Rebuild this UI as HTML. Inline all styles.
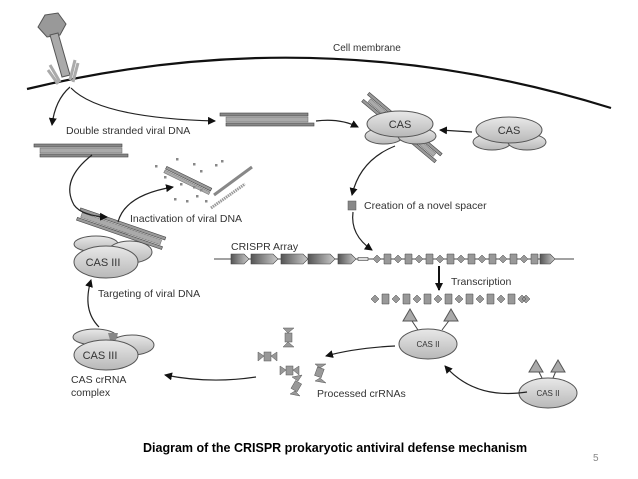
<!DOCTYPE html>
<html><head><meta charset="utf-8"><style>
body{margin:0;background:#fff;width:638px;height:479px;overflow:hidden}
svg{display:block}
text{font-family:"Liberation Sans",sans-serif;fill:#333}
</style></head><body>
<svg width="638" height="479" viewBox="0 0 638 479" xmlns="http://www.w3.org/2000/svg">
<defs>
<marker id="a" markerWidth="8" markerHeight="8" refX="7" refY="4" orient="auto" markerUnits="userSpaceOnUse"><path d="M0,0 L8,4 L0,8 z" fill="#111"/></marker>
<linearGradient id="g" x1="0" y1="0" x2="0" y2="1"><stop offset="0" stop-color="#e8e8e8"/><stop offset="1" stop-color="#b8b8b8"/></linearGradient>
<linearGradient id="h" x1="0" y1="0" x2="1" y2="0"><stop offset="0" stop-color="#555"/><stop offset="1" stop-color="#ccc"/></linearGradient>
<g id="dna"><rect x="0" y="0" width="88" height="3" fill="#888" stroke="#444" stroke-width=".6"/><rect x="6" y="4" width="82" height="5" fill="#aaa" stroke="#666" stroke-width=".5"/><rect x="6" y="10" width="88" height="3" fill="#888" stroke="#444" stroke-width=".6"/></g>
</defs>
<path d="M27,89 Q321,18 611,108" fill="none" stroke="#111" stroke-width="2.2"/>
<text x="333" y="51" font-size="10">Cell membrane</text>
<polygon points="45,15 58,13 66,24 60,35 47,37 38,27" fill="#999" stroke="#555"/>
<polygon points="50,35 58,33 70,75 62,77" fill="#aaa" stroke="#555"/>
<path d="M50,65 L60,82 M48,70 L58,84 M75,60 L70,80 M78,63 L73,82" stroke="#aaa" stroke-width="3"/>
<path d="M70,87 Q55,100 52,125" fill="none" stroke="#222" stroke-width="1.2" marker-end="url(#a)"/>
<path d="M71,88 Q100,118 215,121" fill="none" stroke="#222" stroke-width="1.2" marker-end="url(#a)"/>
<text x="66" y="134" font-size="10.5">Double stranded viral DNA</text>
<use href="#dna" x="34" y="144"/>
<use href="#dna" x="220" y="113"/>
<path d="M316,121 Q340,118 358,127" fill="none" stroke="#222" stroke-width="1.2" marker-end="url(#a)"/>
<g transform="rotate(40 400 126)"><rect x="355" y="120" width="95" height="3" fill="#999" stroke="#444" stroke-width=".6"/><rect x="360" y="124" width="85" height="4" fill="#aaa" stroke="#666" stroke-width=".5"/><rect x="355" y="129" width="95" height="3" fill="#999" stroke="#444" stroke-width=".6"/></g>
<ellipse cx="384" cy="136" rx="19" ry="8" fill="url(#g)" stroke="#555"/>
<ellipse cx="417" cy="136" rx="19" ry="8" fill="url(#g)" stroke="#555"/>
<ellipse cx="400" cy="124" rx="33" ry="13" fill="url(#g)" stroke="#555"/>
<text x="400" y="128" font-size="11" text-anchor="middle">CAS</text>
<ellipse cx="492" cy="142" rx="19" ry="8" fill="url(#g)" stroke="#555"/>
<ellipse cx="527" cy="142" rx="19" ry="8" fill="url(#g)" stroke="#555"/>
<ellipse cx="509" cy="130" rx="33" ry="13" fill="url(#g)" stroke="#555"/>
<text x="509" y="134" font-size="11" text-anchor="middle">CAS</text>
<path d="M472,132 L440,130" stroke="#222" stroke-width="1.2" marker-end="url(#a)"/>
<path d="M395,146 Q360,160 352,195" fill="none" stroke="#222" stroke-width="1.2" marker-end="url(#a)"/>
<rect x="348" y="201" width="8" height="9" fill="#888" stroke="#555" stroke-width=".5"/>
<text x="364" y="209" font-size="10.5">Creation of a novel spacer</text>
<path d="M353,212 Q350,235 372,250" fill="none" stroke="#222" stroke-width="1.2" marker-end="url(#a)"/>
<text x="231" y="250" font-size="10.5">CRISPR Array</text>
<line x1="214" y1="259" x2="574" y2="259" stroke="#444"/>
<g stroke="#444" stroke-width=".6">
<path d="M231,254 h13 l5,5 l-5,5 h-13z" fill="url(#h)"/>
<path d="M251,254 h22 l5,5 l-5,5 h-22z" fill="url(#h)"/>
<path d="M281,254 h22 l5,5 l-5,5 h-22z" fill="url(#h)"/>
<path d="M308,254 h22 l5,5 l-5,5 h-22z" fill="url(#h)"/>
<path d="M338,254 h13 l5,5 l-5,5 h-13z" fill="url(#h)"/>
<rect x="358" y="257.5" width="10" height="3" fill="#ddd"/>
<path d="M540,254 h10 l5,5 l-5,5 h-10z" fill="url(#h)"/>
</g>
<g fill="#999" stroke="#444" stroke-width=".5">
<path d="M373,259 l4,-4 l4,4 l-4,4z M384,254h7v10h-7z M394,259 l4,-4 l4,4 l-4,4z M405,254h7v10h-7z M415,259 l4,-4 l4,4 l-4,4z M426,254h7v10h-7z M436,259 l4,-4 l4,4 l-4,4z M447,254h7v10h-7z M457,259 l4,-4 l4,4 l-4,4z M468,254h7v10h-7z M478,259 l4,-4 l4,4 l-4,4z M489,254h7v10h-7z M499,259 l4,-4 l4,4 l-4,4z M510,254h7v10h-7z M520,259 l4,-4 l4,4 l-4,4z M531,254h7v10h-7z"/>
<path d="M371,299 l4,-4 l4,4 l-4,4z M382,294h7v10h-7z M392,299 l4,-4 l4,4 l-4,4z M403,294h7v10h-7z M413,299 l4,-4 l4,4 l-4,4z M424,294h7v10h-7z M434,299 l4,-4 l4,4 l-4,4z M445,294h7v10h-7z M455,299 l4,-4 l4,4 l-4,4z M466,294h7v10h-7z M476,299 l4,-4 l4,4 l-4,4z M487,294h7v10h-7z M497,299 l4,-4 l4,4 l-4,4z M508,294h7v10h-7z M518,299 l4,-4 l4,4 l-4,4z M522,299 l4,-4 l4,4 l-4,4z"/>
</g>
<line x1="439" y1="266" x2="439" y2="290" stroke="#111" stroke-width="2" marker-end="url(#a)"/>
<text x="451" y="285" font-size="10.5">Transcription</text>
<path d="M418,330 L410,318 M442,330 L451,318 M542,378 L536,366 M553,378 L558,366" stroke="#444"/>
<g fill="#aaa" stroke="#555"><polygon points="410,309 403,321 417,321"/><polygon points="451,309 444,321 458,321"/><polygon points="536,360 529,372 543,372"/><polygon points="558,360 551,372 565,372"/></g>
<ellipse cx="428" cy="344" rx="29" ry="15" fill="url(#g)" stroke="#555"/>
<text x="428" y="347" font-size="8" text-anchor="middle">CAS II</text>
<ellipse cx="548" cy="393" rx="29" ry="15" fill="url(#g)" stroke="#555"/>
<text x="548" y="396" font-size="8" text-anchor="middle">CAS II</text>
<path d="M527,392 Q475,400 445,366" fill="none" stroke="#222" stroke-width="1.2" marker-end="url(#a)"/>
<path d="M395,346 Q355,348 326,356" fill="none" stroke="#222" stroke-width="1.2" marker-end="url(#a)"/>
<g fill="#999" stroke="#555" stroke-width=".5">
<rect x="285" y="333" width="7" height="9"/><polygon points="283,328 294,328 288,333"/><polygon points="283,347 294,347 288,342"/>
<rect x="264" y="352" width="7" height="9"/><polygon points="258,352 258,361 264,356"/><polygon points="277,352 277,361 271,356"/>
<rect x="286" y="366" width="7" height="9"/><polygon points="280,366 280,375 286,370"/><polygon points="299,366 299,375 293,370"/>
<rect x="316" y="368" width="7" height="9" transform="rotate(20 320 372)"/><polygon points="315,364 326,364 320,368"/><polygon points="315,381 326,383 320,378"/>
<rect x="293" y="382" width="7" height="9" transform="rotate(30 297 386)"/><polygon points="292,377 302,375 298,381"/><polygon points="290,394 300,396 295,391"/>
</g>
<text x="317" y="397" font-size="10.5">Processed crRNAs</text>
<path d="M256,377 Q210,384 165,375" fill="none" stroke="#222" stroke-width="1.2" marker-end="url(#a)"/>
<ellipse cx="95" cy="337" rx="22" ry="8" fill="url(#g)" stroke="#555"/>
<ellipse cx="132" cy="345" rx="22" ry="10" fill="url(#g)" stroke="#555"/>
<polygon points="108,333 118,333 116,340 110,340" fill="#888"/>
<ellipse cx="106" cy="355" rx="32" ry="15" fill="url(#g)" stroke="#555"/>
<text x="100" y="359" font-size="11" text-anchor="middle">CAS III</text>
<text x="71" y="383" font-size="10.5">CAS crRNA</text>
<text x="71" y="396" font-size="10.5">complex</text>
<path d="M99,327 Q82,310 91,280" fill="none" stroke="#222" stroke-width="1.2" marker-end="url(#a)"/>
<text x="98" y="297" font-size="10.5">Targeting of viral DNA</text>
<ellipse cx="96" cy="244" rx="22" ry="8" fill="url(#g)" stroke="#555"/>
<ellipse cx="130" cy="252" rx="22" ry="11" fill="url(#g)" stroke="#555"/>
<ellipse cx="106" cy="262" rx="32" ry="16" fill="url(#g)" stroke="#555"/>
<text x="103" y="266" font-size="11" text-anchor="middle">CAS III</text>
<g transform="rotate(19 120 232)"><rect x="75" y="222" width="90" height="3" fill="#999" stroke="#444" stroke-width=".6"/><rect x="78" y="226" width="84" height="5" fill="#aaa" stroke="#666" stroke-width=".5"/><rect x="75" y="232" width="90" height="3" fill="#999" stroke="#444" stroke-width=".6"/></g>
<path d="M92,155 Q60,180 74,205 Q82,216 107,217" fill="none" stroke="#222" stroke-width="1.2" marker-end="url(#a)"/>
<path d="M118,222 Q125,195 173,187" fill="none" stroke="#222" stroke-width="1.2" marker-end="url(#a)"/>
<text x="130" y="222" font-size="10.5">Inactivation of viral DNA</text>
<g transform="rotate(26 188 180)"><rect x="163" y="177" width="50" height="3" fill="#999" stroke="#444" stroke-width=".6"/><rect x="163" y="181" width="50" height="3" fill="#aaa" stroke="#666" stroke-width=".5"/></g>
<line x1="214" y1="195" x2="252" y2="167" stroke="#888" stroke-width="3"/>
<line x1="211" y1="208" x2="245" y2="184" stroke="#999" stroke-width="3" stroke-dasharray="1.5 .8"/>
<g fill="#888"><rect x="155" y="165" width="2.5" height="2.5"/><rect x="176" y="158" width="2.5" height="2.5"/><rect x="193" y="163" width="2.5" height="2.5"/><rect x="200" y="170" width="2.5" height="2.5"/><rect x="215" y="164" width="2.5" height="2.5"/><rect x="221" y="160" width="2.5" height="2.5"/><rect x="164" y="176" width="2.5" height="2.5"/><rect x="180" y="183" width="2.5" height="2.5"/><rect x="193" y="186" width="2.5" height="2.5"/><rect x="200" y="189" width="2.5" height="2.5"/><rect x="174" y="198" width="2.5" height="2.5"/><rect x="186" y="200" width="2.5" height="2.5"/><rect x="196" y="195" width="2.5" height="2.5"/><rect x="205" y="200" width="2.5" height="2.5"/></g>
<text x="143" y="452" font-size="12.5" style="fill:#000;font-weight:bold">Diagram of the CRISPR prokaryotic antiviral defense mechanism</text>
<text x="593" y="461" font-size="10" style="fill:#888">5</text>
</svg>
</body></html>
